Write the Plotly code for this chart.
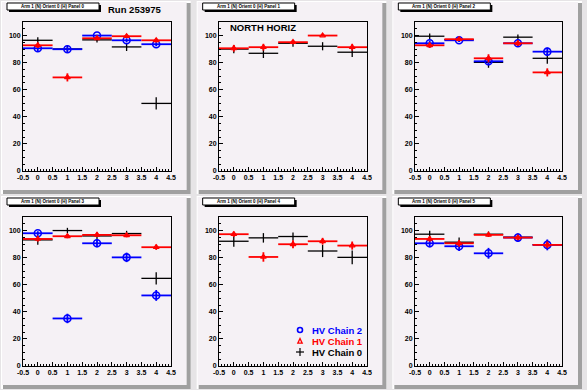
import plotly.graph_objects as go

W, H = 587, 390

# ---------------- data ----------------
bins = [0, 1, 2, 3, 4]
bin_half_width = [0.5, 0.5, 0.5, 0.5, 0.5]

x_tick_vals = [-0.5, 0, 0.5, 1, 1.5, 2, 2.5, 3, 3.5, 4, 4.5]
x_tick_text = ["-0.5", "0", "0.5", "1", "1.5", "2", "2.5", "3", "3.5", "4", "4.5"]
y_tick_vals = [0, 20, 40, 60, 80, 100]
y_tick_text = ["0", "20", "40", "60", "80", "100"]

panel_titles = [
    "Arm 1 (N) Orient 0 (H) Panel 0",
    "Arm 1 (N) Orient 0 (H) Panel 1",
    "Arm 1 (N) Orient 0 (H) Panel 2",
    "Arm 1 (N) Orient 0 (H) Panel 3",
    "Arm 1 (N) Orient 0 (H) Panel 4",
    "Arm 1 (N) Orient 0 (H) Panel 5",
]
run_label = "Run 253975"
region_label = "NORTH HORIZ"
legend_names = ["HV Chain 2", "HV Chain 1", "HV Chain 0"]

# Panel 0
p0_chain0 = [96.5, 90.1, 96.8, 91.6, 49.9]
p0_chain0_err = [2.2, 2.8, 2.0, 3.0, 4.5]
p0_chain1 = [92.8, 69.1, 98.0, 99.5, 96.5]
p0_chain1_err = [2.0, 3.0, 1.2, 0.8, 1.5]
p0_chain2 = [90.6, 89.9, 100.0, 96.5, 93.6]
p0_chain2_err = [2.0, 2.0, 0.5, 1.5, 1.5]
# Panel 1
p1_chain0 = [90.0, 86.9, 94.3, 92.1, 87.7]
p1_chain0_err = [3.0, 3.5, 2.5, 3.0, 3.5]
p1_chain1 = [90.6, 91.4, 95.1, 100.0, 91.4]
p1_chain1_err = [2.5, 2.5, 1.5, 0.5, 2.5]
p1_chain2 = None
p1_chain2_err = None
# Panel 2
p2_chain0 = [99.5, 97.0, 80.2, 98.8, 83.2]
p2_chain0_err = [2.0, 1.5, 4.0, 2.0, 4.0]
p2_chain1 = [92.8, 97.3, 83.2, 94.3, 72.8]
p2_chain1_err = [2.0, 1.2, 3.0, 2.0, 3.0]
p2_chain2 = [94.3, 96.5, 81.0, 94.3, 88.1]
p2_chain2_err = [2.0, 1.2, 3.0, 2.0, 3.0]
# Panel 3
p3_chain0 = [93.1, 100.0, 96.0, 97.8, 64.7]
p3_chain0_err = [3.5, 2.0, 2.5, 2.0, 4.5]
p3_chain1 = [93.8, 95.8, 96.8, 96.5, 87.7]
p3_chain1_err = [2.0, 1.5, 1.5, 1.5, 2.0]
p3_chain2 = [98.0, 35.1, 90.6, 80.2, 52.1]
p3_chain2_err = [1.5, 3.5, 3.0, 3.5, 4.0]
# Panel 4
p4_chain0 = [92.1, 94.6, 95.6, 84.9, 80.2]
p4_chain0_err = [4.0, 3.5, 3.0, 4.5, 5.0]
p4_chain1 = [97.3, 80.5, 89.9, 92.1, 88.9]
p4_chain1_err = [2.0, 3.5, 3.0, 2.5, 3.0]
p4_chain2 = None
p4_chain2_err = None
# Panel 5
p5_chain0 = [97.3, 91.4, 97.3, 95.1, 89.6]
p5_chain0_err = [2.5, 3.5, 2.0, 2.5, 3.5]
p5_chain1 = [93.8, 90.6, 96.8, 94.8, 89.4]
p5_chain1_err = [2.0, 2.5, 1.5, 2.0, 2.5]
p5_chain2 = [90.6, 88.4, 83.2, 94.8, 89.4]
p5_chain2_err = [3.0, 3.5, 4.0, 3.0, 4.0]

chain0 = [p0_chain0, p1_chain0, p2_chain0, p3_chain0, p4_chain0, p5_chain0]
chain0_err = [p0_chain0_err, p1_chain0_err, p2_chain0_err, p3_chain0_err, p4_chain0_err, p5_chain0_err]
chain1 = [p0_chain1, p1_chain1, p2_chain1, p3_chain1, p4_chain1, p5_chain1]
chain1_err = [p0_chain1_err, p1_chain1_err, p2_chain1_err, p3_chain1_err, p4_chain1_err, p5_chain1_err]
chain2 = [p0_chain2, p1_chain2, p2_chain2, p3_chain2, p4_chain2, p5_chain2]
chain2_err = [p0_chain2_err, p1_chain2_err, p2_chain2_err, p3_chain2_err, p4_chain2_err, p5_chain2_err]

# ---------------- layout geometry (pixels) ----------------
col_px = [(23, 171), (219, 367), (415, 562)]
row_px = [(22, 171), (217, 366)]

FONT = "Liberation Sans, Arial, sans-serif"
PAD_FILL = "#f5f1f5"
CANVAS = "#e6e4e6"

def px(x):
    return x / W

def py(y):
    return 1 - y / H

fig = go.Figure()
layout = dict(
    width=W, height=H,
    margin=dict(l=0, r=0, t=0, b=0),
    paper_bgcolor=CANVAS,
    plot_bgcolor="rgba(0,0,0,0)",
    showlegend=False,
    shapes=[], annotations=[],
)

BLACK, RED, BLUE = "#000000", "#ff0000", "#0000ff"

for k in range(6):
    c, r = k % 3, k // 3
    ax = "" if k == 0 else str(k + 1)
    xa, ya = "x" + ax, "y" + ax
    x0p, x1p = col_px[c]
    y0p, y1p = row_px[r]

    common = dict(
        showgrid=False, zeroline=False, showline=True, linecolor="black",
        linewidth=1, mirror=True, ticks="inside", tickcolor="black",
        tickwidth=1, ticklen=4, automargin=False,
        tickfont=dict(family=FONT, size=7, color="black", weight="bold"),
    )
    layout["xaxis" + ax] = dict(
        common, domain=[px(x0p), px(x1p)], anchor=ya, range=[-0.5, 4.5],
        tickmode="array", tickvals=x_tick_vals, ticktext=x_tick_text,
        minor=dict(ticks="inside", ticklen=2, dtick=0.1, tickcolor="black", showgrid=False),
        fixedrange=True,
    )
    layout["yaxis" + ax] = dict(
        common, domain=[py(y1p), py(y0p)], anchor=xa, range=[0, 110],
        tickmode="array", tickvals=y_tick_vals, ticktext=y_tick_text,
        minor=dict(ticks="inside", ticklen=2, dtick=5, tickcolor="black", showgrid=False),
        fixedrange=True,
    )

    # pad background (ROOT-like raised pad)
    cx0, cx1 = c * W / 3, (c + 1) * W / 3
    cy0, cy1 = r * H / 2, (r + 1) * H / 2
    layout["shapes"] += [
        dict(type="rect", xref="paper", yref="paper", layer="below",
             x0=px(cx0 + 1), x1=px(cx1 - 5), y0=py(cy1 - 1), y1=py(cy0 + 1),
             fillcolor="#ffffff", line=dict(width=0)),
        dict(type="rect", xref="paper", yref="paper", layer="below",
             x0=px(cx0 + 3), x1=px(cx1 - 5), y0=py(cy1 - 1), y1=py(cy0 + 3),
             fillcolor="#a0a0a0", line=dict(width=0)),
        dict(type="rect", xref="paper", yref="paper", layer="below",
             x0=px(cx0 + 2), x1=px(cx1 - 9), y0=py(cy1 - 5), y1=py(cy0 + 2),
             fillcolor=PAD_FILL, line=dict(width=0)),
        # title box shadow + box
        dict(type="rect", xref="paper", yref="paper", layer="below",
             x0=px(cx0 + 9), x1=px(cx0 + 101), y0=py(cy0 + 12), y1=py(cy0 + 5),
             fillcolor="#000000", line=dict(width=0)),
        dict(type="rect", xref="paper", yref="paper", layer="below",
             x0=px(cx0 + 7), x1=px(cx0 + 99), y0=py(cy0 + 10), y1=py(cy0 + 3),
             fillcolor="#ffffff", line=dict(width=1, color="black")),
    ]
    layout["annotations"].append(dict(
        xref="paper", yref="paper", x=px(cx0 + 53), y=py(cy0 + 6.5),
        text=panel_titles[k], showarrow=False, xanchor="center", yanchor="middle",
        font=dict(family=FONT, size=4.5, color="black", weight="bold"),
    ))

    # series: chain 0 (black), chain 2 (blue), chain 1 (red)
    series = [
        (chain0[k], chain0_err[k], BLACK, dict(size=1, symbol="circle", color=BLACK), 1.3),
        (chain2[k], chain2_err[k], BLUE, dict(size=7, symbol="circle-open", color=BLUE, line=dict(width=1.6, color=BLUE)), 1.8),
        (chain1[k], chain1_err[k], RED, dict(size=5, symbol="triangle-up-open", color=RED, line=dict(width=1.3, color=RED)), 1.8),
    ]
    for vals, errs, col, mk, lw in series:
        if vals is None:
            continue
        fig.add_trace(go.Scatter(
            x=bins, y=vals, mode="markers", xaxis=xa, yaxis=ya,
            marker=mk,
            error_x=dict(type="data", array=bin_half_width, color=col, thickness=lw, width=0),
            error_y=dict(type="data", array=errs, color=col, thickness=lw, width=0),
            hoverinfo="skip",
        ))

# labels
layout["annotations"].append(dict(
    xref="paper", yref="paper", x=px(106), y=py(9), text=run_label, showarrow=False,
    xanchor="left", yanchor="middle", font=dict(family=FONT, size=9.5, color="black", weight="bold"),
))
layout["annotations"].append(dict(
    xref="paper", yref="paper", x=px(228), y=py(27.5), text=region_label, showarrow=False,
    xanchor="left", yanchor="middle", font=dict(family=FONT, size=9.5, color="black", weight="bold"),
))

# legend (panel 4)
leg_cols = [BLUE, RED, BLACK]
leg_y = [330, 341, 352]
mx = 300
for name, col, yy in zip(legend_names, leg_cols, leg_y):
    layout["annotations"].append(dict(
        xref="paper", yref="paper", x=px(310), y=py(yy), text=name, showarrow=False,
        xanchor="left", yanchor="middle", font=dict(family=FONT, size=9.5, color=col, weight="bold"),
    ))
layout["shapes"] += [
    dict(type="circle", xref="paper", yref="paper",
         x0=px(mx - 2.5), x1=px(mx + 2.5), y0=py(leg_y[0] + 2.5), y1=py(leg_y[0] - 2.5),
         line=dict(color=BLUE, width=1.6)),
    dict(type="path", xref="paper", yref="paper",
         path=f"M {px(mx-2.2)} {py(leg_y[1]+2.2)} L {px(mx+2.2)} {py(leg_y[1]+2.2)} L {px(mx)} {py(leg_y[1]-2.5)} Z",
         line=dict(color=RED, width=1.3)),
    dict(type="line", xref="paper", yref="paper",
         x0=px(mx - 4), x1=px(mx + 4), y0=py(leg_y[2]), y1=py(leg_y[2]),
         line=dict(color=BLACK, width=1.2)),
    dict(type="line", xref="paper", yref="paper",
         x0=px(mx), x1=px(mx), y0=py(leg_y[2] - 4), y1=py(leg_y[2] + 4),
         line=dict(color=BLACK, width=1.2)),
]

fig.update_layout(**layout)
fig.write_html(
    "out.html",
    config={"displayModeBar": False, "staticPlot": True},
    post_script="document.body.style.margin='0';document.body.style.overflow='hidden';",
)
